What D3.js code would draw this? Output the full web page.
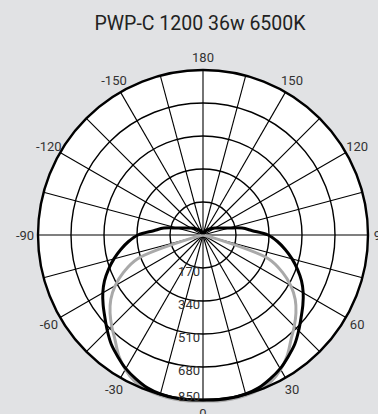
<!DOCTYPE html>
<html>
<head>
<meta charset="utf-8">
<script src="https://cdn.jsdelivr.net/npm/d3@7"></script>
<style>
  html, body { margin: 0; padding: 0; background: #e1e2e4; }
  svg { display: block; }
  text { font-family: Roboto, "Liberation Sans", sans-serif; }
</style>
</head>
<body>
<svg id="chart" width="378" height="414"></svg>
<script>
// Luminous intensity distribution (cd/klm), symmetric about the 0° axis
const title = "PWP-C 1200 36w 6500K";
const angles = [0, 5, 10, 15, 20, 25, 30, 35, 40, 45, 50, 55, 60, 65, 70, 75, 80, 85, 90,
                95, 100, 105, 110, 115, 120, 125, 130, 135, 140, 145, 150, 155, 160, 165, 170, 175, 180];
// C0-C180 plane
const planeC0 = [850, 852, 852, 848, 838, 818, 795, 765, 735, 697, 660, 628, 596, 560, 518, 475, 430, 385, 335,
                 255, 205, 140, 105, 85, 72, 60, 50, 42, 35, 30, 25, 20, 15, 12, 8, 6, 5];
// C90-C270 plane
const planeC90 = [855, 858, 858, 855, 848, 832, 800, 757, 705, 665, 625, 580, 522, 450, 360, 40, 0, 0, 0,
                  0, 0, 0, 0, 0, 0, 0, 0, 0, 0, 0, 0, 0, 0, 0, 0, 0, 0];
const ringTicks = [170, 340, 510, 680, 850];
const angleTicks = [-150, -120, -90, -60, -30, 0, 30, 60, 90, 120, 150, 180];
const spokeStep = 15;

const width = 378, height = 414;
const cx = 203, cy = 235, R = 165;

const svg = d3.select("#chart");
const g = svg.append("g").attr("transform", `translate(${cx},${cy})`);

const r = d3.scaleLinear().domain([0, 850]).range([0, R]);
// 0° points straight down, positive angles to the right
const toRad = deg => (180 - deg) * Math.PI / 180;
const px = (deg, rad) => rad * Math.sin(toRad(deg));
const py = (deg, rad) => -rad * Math.cos(toRad(deg));

svg.append("text")
  .attr("x", 200).attr("y", 30)
  .attr("text-anchor", "middle")
  .attr("font-size", 19.5)
  .attr("fill", "#222")
  .text(title);

// plot disc
g.append("circle").attr("r", R).attr("fill", "#fff");

// spokes
const spokes = d3.range(-180, 180, spokeStep);
g.selectAll("line.spoke").data(spokes).join("line")
  .attr("class", "spoke")
  .attr("x1", 0).attr("y1", 0)
  .attr("x2", d => px(d, R)).attr("y2", d => py(d, R))
  .attr("stroke", "#000").attr("stroke-width", 1.1);

// rings
g.selectAll("circle.ring").data(ringTicks.slice(0, -1)).join("circle")
  .attr("class", "ring")
  .attr("r", d => r(d))
  .attr("fill", "none").attr("stroke", "#000").attr("stroke-width", 1.4);

// curves
const full = (vals) => {
  const pts = [];
  for (let i = angles.length - 1; i > 0; i--) pts.push([-angles[i], vals[i]]);
  for (let i = 0; i < angles.length; i++) pts.push([angles[i], vals[i]]);
  return pts;
};
const radial = d3.lineRadial()
  .angle(d => toRad(d[0]))
  .radius(d => r(d[1]))
  .curve(d3.curveCatmullRom.alpha(0.5));

g.append("path")
  .attr("d", radial(full(planeC90)))
  .attr("fill", "none").attr("stroke", "#a9a9a9").attr("stroke-width", 3);

g.append("path")
  .attr("d", radial(full(planeC0)))
  .attr("fill", "none").attr("stroke", "#000").attr("stroke-width", 3);

// outer boundary
g.append("circle").attr("r", R)
  .attr("fill", "none").attr("stroke", "#000").attr("stroke-width", 2.4);

// ring labels
g.selectAll("text.ringLabel").data(ringTicks).join("text")
  .attr("class", "ringLabel")
  .attr("x", -3)
  .attr("y", d => Math.min(r(d) + 3, R - 4))
  .attr("text-anchor", "end")
  .attr("dominant-baseline", "central")
  .attr("font-size", 13)
  .attr("fill", "#333")
  .text(d => d);

// angle labels
g.selectAll("text.angleLabel").data(angleTicks).join("text")
  .attr("class", "angleLabel")
  .attr("x", d => px(d, R + 13))
  .attr("y", d => py(d, R + 13))
  .attr("text-anchor", "middle")
  .attr("dominant-baseline", "central")
  .attr("font-size", 13)
  .attr("fill", "#333")
  .text(d => d);
</script>
</body>
</html>
